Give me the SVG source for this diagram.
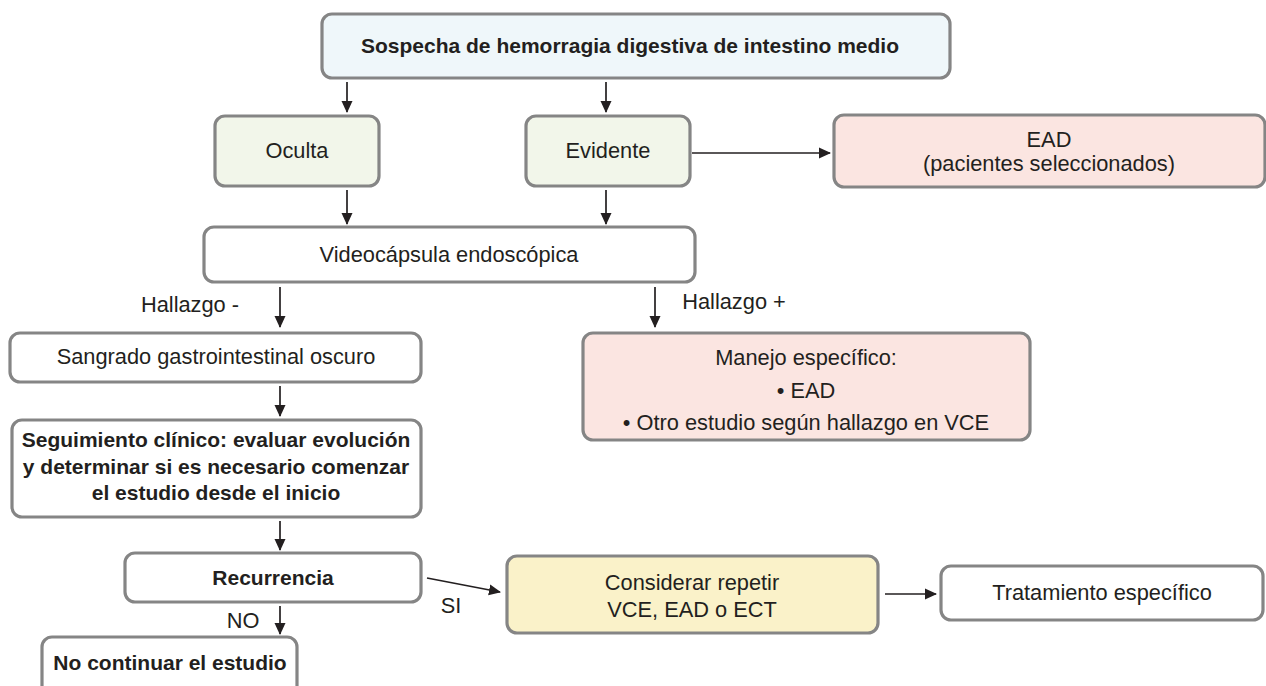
<svg xmlns="http://www.w3.org/2000/svg" width="1266" height="686" viewBox="0 0 1266 686">
<defs>
<marker id="ah" markerUnits="userSpaceOnUse" markerWidth="12" markerHeight="12" viewBox="0 0 12 12" refX="11" refY="6" orient="auto">
<path d="M0,0.5 L12,6 L0,11.5 Z" fill="#231f20"/>
</marker>
<style>
.box{stroke:#858585;stroke-width:3.2;}
.w{fill:#ffffff;}
.blue{fill:#eff7fa;}
.green{fill:#f2f6ea;}
.pink{fill:#fbe5e1;}
.yellow{fill:#faf2c9;}
text{font-family:"Liberation Sans",Arial,sans-serif;font-size:21.8px;fill:#231f20;text-anchor:middle;}
.b{font-weight:bold;font-size:21px;}
.c line{stroke:#231f20;stroke-width:1.7;marker-end:url(#ah);}
</style>
</defs>
<rect width="1266" height="686" fill="#ffffff"/>
<g id="n-sospecha"><rect class="box blue" x="322" y="14" width="628" height="64" rx="10"/><text class="b" x="630" y="53">Sospecha de hemorragia digestiva de intestino medio</text></g>
<g id="n-oculta"><rect class="box green" x="215" y="116" width="164" height="70" rx="10"/><text x="297" y="158">Oculta</text></g>
<g id="n-evidente"><rect class="box green" x="526" y="116" width="164" height="70" rx="10"/><text x="608" y="158">Evidente</text></g>
<g id="n-ead"><rect class="box pink" x="834" y="115" width="431" height="72" rx="10"/><text x="1049" y="147">EAD</text><text x="1049" y="171">(pacientes seleccionados)</text></g>
<g id="n-vce"><rect class="box w" x="204" y="227" width="491" height="55" rx="10"/><text x="449" y="262">Videocápsula endoscópica</text></g>
<g id="n-sangrado"><rect class="box w" x="10" y="333" width="411" height="49" rx="10"/><text x="216" y="364">Sangrado gastrointestinal oscuro</text></g>
<g id="n-manejo"><rect class="box pink" x="583" y="333" width="447" height="107" rx="10"/><text x="806" y="365">Manejo específico:</text><text x="806" y="398">• EAD</text><text x="806" y="430">• Otro estudio según hallazgo en VCE</text></g>
<g id="n-seguimiento"><rect class="box w" x="12" y="420" width="409" height="97" rx="10"/><text class="b" x="216" y="447">Seguimiento clínico: evaluar evolución</text><text class="b" x="216" y="474">y determinar si es necesario comenzar</text><text class="b" x="216" y="500">el estudio desde el inicio</text></g>
<g id="n-recurrencia"><rect class="box w" x="125" y="553" width="296" height="49" rx="10"/><text class="b" x="273" y="585">Recurrencia</text></g>
<g id="n-nocontinuar"><rect class="box w" x="42" y="637" width="255" height="70" rx="10"/><text class="b" x="170" y="670">No continuar el estudio</text></g>
<g id="n-considerar"><rect class="box yellow" x="507" y="556" width="371" height="77" rx="10"/><text x="692" y="590">Considerar repetir</text><text x="692" y="617">VCE, EAD o ECT</text></g>
<g id="n-tratamiento"><rect class="box w" x="941" y="566" width="322" height="54" rx="10"/><text x="1102" y="600">Tratamiento específico</text></g>
<g id="connectors" class="c">
<line x1="347" y1="82" x2="347" y2="112"/>
<line x1="606" y1="82" x2="606" y2="112"/>
<line x1="692" y1="153" x2="830" y2="153"/>
<line x1="347" y1="190" x2="347" y2="224"/>
<line x1="606" y1="190" x2="606" y2="224"/>
<line x1="280" y1="287" x2="280" y2="327"/>
<line x1="655" y1="287" x2="655" y2="327"/>
<line x1="280" y1="386" x2="280" y2="416"/>
<line x1="280" y1="521" x2="280" y2="550"/>
<line x1="280" y1="606" x2="280" y2="634"/>
<line x1="427" y1="578" x2="500" y2="592"/>
<line x1="885" y1="594" x2="936" y2="594"/>
</g>
<g id="labels">
<text x="190" y="312">Hallazgo -</text>
<text x="734" y="309">Hallazgo +</text>
<text x="243" y="628">NO</text>
<text x="451" y="613">SI</text>
</g>
</svg>
